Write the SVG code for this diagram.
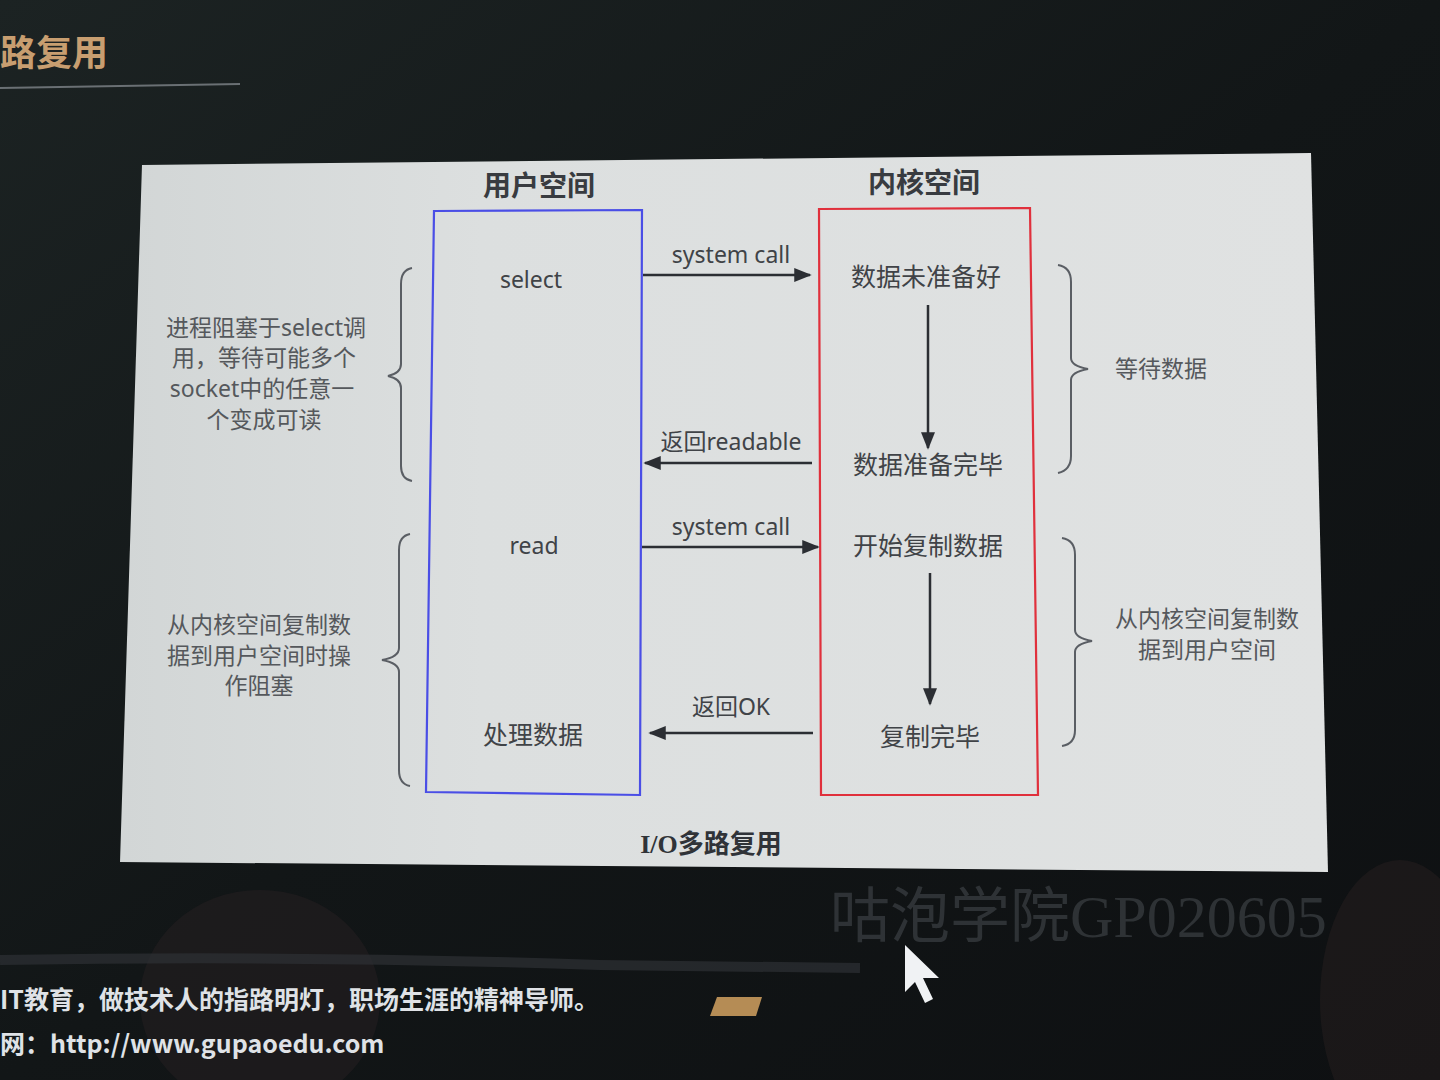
<svg xmlns="http://www.w3.org/2000/svg" width="1440" height="1080" viewBox="0 0 1440 1080">
  <defs>
    <linearGradient id="bg" x1="0" y1="0" x2="1" y2="1">
      <stop offset="0" stop-color="#1c2323"/>
      <stop offset="0.5" stop-color="#121617"/>
      <stop offset="1" stop-color="#0e1012"/>
    </linearGradient>
    <linearGradient id="panel" x1="0" y1="0" x2="1" y2="0">
      <stop offset="0" stop-color="#d2d6d6"/>
      <stop offset="0.3" stop-color="#dcdfdf"/>
      <stop offset="1" stop-color="#e0e2e2"/>
    </linearGradient>
    <marker id="ah" viewBox="0 0 10 10" refX="9" refY="5" markerWidth="7" markerHeight="7" markerUnits="strokeWidth" orient="auto">
      <path d="M0,1 L10,5 L0,9 z" fill="#2b2e33"/>
    </marker>
    <style>
      .t { font-family: "Noto Sans", "Noto Sans CJK SC", sans-serif; fill: #404347; text-anchor: middle; }
      .h { font-size: 28px; font-weight: 600; fill: #383b40; }
      .n { font-size: 23px; }
      .c { font-size: 25px; }
      .s { font-size: 23px; fill: #55585c; }
      .ln { stroke: #2b2e33; stroke-width: 2.5; fill: none; marker-end: url(#ah); }
      .br { stroke: #5a5e64; stroke-width: 2; fill: none; }
      .ft { font-family: "Noto Sans CJK SC", sans-serif; font-size: 25px; font-weight: bold; fill: #dfe2e6; }
    </style>
  </defs>

  <rect width="1440" height="1080" fill="url(#bg)"/>
  <ellipse cx="260" cy="1000" rx="120" ry="110" fill="#2a2224" opacity="0.45"/>
  <ellipse cx="1400" cy="1000" rx="80" ry="140" fill="#2a2222" opacity="0.45"/>

  <!-- slide chrome -->
  <text x="0" y="66" font-family="Noto Sans CJK SC, sans-serif" font-size="36" font-weight="bold" fill="#c89e70">路复用</text>
  <line x1="0" y1="88" x2="240" y2="84" stroke="#6a7074" stroke-width="2"/>

  <!-- panel -->
  <polygon points="142,165 1311,153 1328,872 120,862" fill="url(#panel)"/>

  <g id="user-space">
    <text class="t h" x="539" y="196">用户空间</text>
    <polygon points="434,211 642,210 640,795 426,792" fill="none" stroke="#4a4ee6" stroke-width="2.2"/>
    <text class="t n" x="531" y="288">select</text>
    <text class="t n" x="534" y="554">read</text>
    <text class="t c" x="533" y="744">处理数据</text>
  </g>

  <g id="kernel-space">
    <text class="t h" x="924" y="193">内核空间</text>
    <polygon points="819,209 1030,208 1038,795 821,795" fill="none" stroke="#e0303c" stroke-width="2.2"/>
    <text class="t c" x="926" y="286">数据未准备好</text>
    <text class="t c" x="928" y="474">数据准备完毕</text>
    <text class="t c" x="928" y="555">开始复制数据</text>
    <text class="t c" x="930" y="746">复制完毕</text>
  </g>

  <g id="left-note-1">
    <path class="br" d="M412,268 Q401,270 401,284 L401,364 Q401,373 388,376 Q401,379 401,388 L401,466 Q401,479 412,481"/>
    <text class="t s" x="266" y="336">进程阻塞于select调</text>
    <text class="t s" x="264" y="366">用，等待可能多个</text>
    <text class="t s" x="262" y="397">socket中的任意一</text>
    <text class="t s" x="264" y="428">个变成可读</text>
  </g>

  <g id="left-note-2">
    <path class="br" d="M410,534 Q399,536 399,550 L399,648 Q399,657 382,660 Q399,663 399,672 L399,770 Q399,784 410,786"/>
    <text class="t s" x="259" y="633" font-size="24">从内核空间复制数</text>
    <text class="t s" x="259" y="664" font-size="24">据到用户空间时操</text>
    <text class="t s" x="259" y="694" font-size="24">作阻塞</text>
  </g>

  <g id="right-note-1">
    <path class="br" d="M1058,265 Q1071,267 1071,282 L1071,358 Q1071,366 1088,369 Q1071,372 1071,380 L1071,456 Q1071,470 1058,473"/>
    <text class="t s" x="1161" y="377" font-size="24">等待数据</text>
  </g>

  <g id="right-note-2">
    <path class="br" d="M1062,538 Q1075,540 1075,555 L1075,630 Q1075,638 1092,641 Q1075,644 1075,652 L1075,730 Q1075,744 1062,746"/>
    <text class="t s" x="1207" y="627" font-size="25">从内核空间复制数</text>
    <text class="t s" x="1207" y="658" font-size="25">据到用户空间</text>
  </g>

  <g id="connectors">
    <line class="ln" x1="643" y1="275" x2="810" y2="275"/>
    <text class="t n" x="731" y="263">system call</text>
    <line class="ln" x1="928" y1="305" x2="928" y2="448"/>
    <line class="ln" x1="812" y1="463" x2="645" y2="463"/>
    <text class="t n" x="731" y="450">返回readable</text>
    <line class="ln" x1="642" y1="547" x2="818" y2="547"/>
    <text class="t n" x="731" y="535">system call</text>
    <line class="ln" x1="930" y1="573" x2="930" y2="704"/>
    <line class="ln" x1="813" y1="733" x2="650" y2="733"/>
    <text class="t n" x="731" y="715">返回OK</text>
  </g>

  <text x="711" y="853" font-family="Liberation Serif, Noto Sans CJK SC, serif" font-size="26" font-weight="bold" fill="#303338" text-anchor="middle">I/O多路复用</text>

  <!-- screen overlay -->
  <text x="830" y="937" font-family="Liberation Serif, Noto Sans CJK SC, serif" font-size="60" fill="#3c4044" opacity="0.7">咕泡学院GP020605</text>
  <path d="M0,960 Q300,955 600,965 L860,968" stroke="#2e3134" stroke-width="10" fill="none" opacity="0.7"/>
  <polygon points="905,945 905,992 915,982 925,1003 933,999 923,978 939,978" fill="#f0f2f4"/>
  <polygon points="717,997 762,997 756,1016 710,1016" fill="#b58c55"/>
  <text class="ft" x="0" y="1009">IT教育，做技术人的指路明灯，职场生涯的精神导师。</text>
  <text class="ft" x="0" y="1053">网：http://www.gupaoedu.com</text>
</svg>
